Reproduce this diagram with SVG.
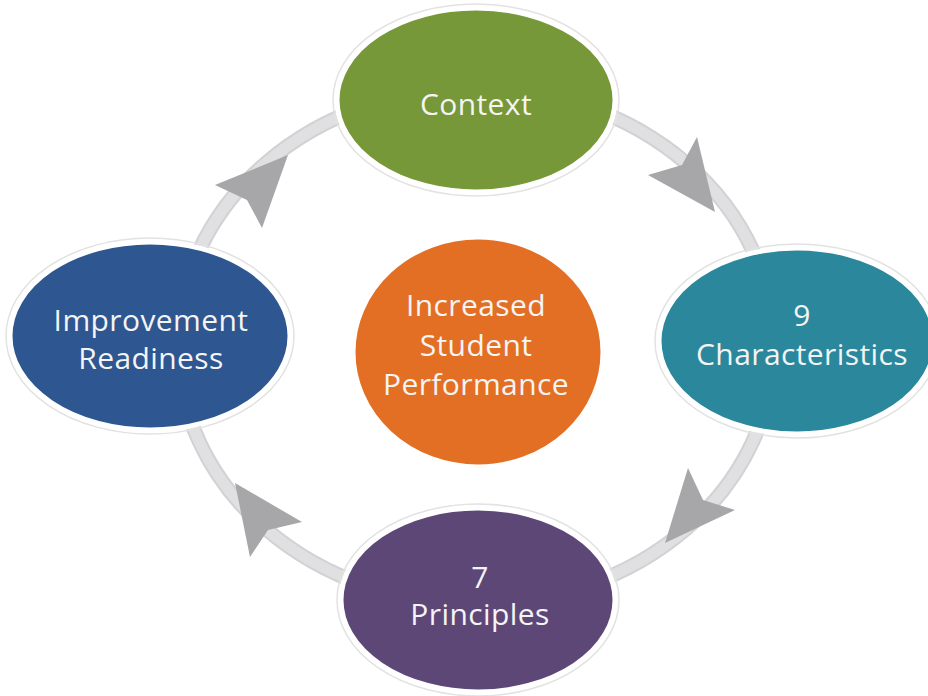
<svg xmlns="http://www.w3.org/2000/svg" width="928" height="696" viewBox="0 0 928 696">
<style>
.node{stroke:#ffffff;stroke-width:5}
.halo{fill:none;stroke:#e2e2e2;stroke-width:1.5}
.lbl{font-family:"Open Sans","Liberation Sans",sans-serif;font-size:30px;letter-spacing:0.4px;fill:#f4f4f4;text-anchor:middle}
.head{fill:#a7a7aa}
</style>
<rect width="928" height="696" fill="#ffffff"/>
<g id="connectors">
<ellipse cx="476" cy="346" rx="298" ry="258" fill="none" stroke="#d2d2d4" stroke-width="15"/>
<ellipse cx="476" cy="346" rx="298" ry="258" fill="none" stroke="#e0e0e2" stroke-width="11"/>
<polygon class="head" points="715,212 697,137 682,165 648,175"/>
<polygon class="head" points="665,543 735,510 703,500 688,468"/>
<polygon class="head" points="235,483 250,557 268,530 302,522"/>
<polygon class="head" points="288,155 215,185 247,200 262,228"/>
</g>
<g id="context">
<ellipse class="halo" cx="476" cy="100" rx="143" ry="96"/>
<ellipse class="node" cx="476" cy="100" rx="139" ry="92" fill="#779838"/>
<text class="lbl" x="476" y="115">Context</text>
</g>
<g id="characteristics">
<ellipse class="halo" cx="797" cy="341" rx="142" ry="97"/>
<ellipse class="node" cx="797" cy="341" rx="138" ry="93" fill="#2b889c"/>
<text class="lbl" x="802" y="326">9</text>
<text class="lbl" x="802" y="365">Characteristics</text>
</g>
<g id="principles">
<ellipse class="halo" cx="478" cy="600" rx="141" ry="96"/>
<ellipse class="node" cx="478" cy="600" rx="137" ry="92" fill="#5d4777"/>
<text class="lbl" x="480" y="588">7</text>
<text class="lbl" x="480" y="625">Principles</text>
</g>
<g id="improvement">
<ellipse class="halo" cx="150" cy="336" rx="144" ry="98"/>
<ellipse class="node" cx="150" cy="336" rx="140" ry="94" fill="#2e5690"/>
<text class="lbl" x="151" y="331">Improvement</text>
<text class="lbl" x="151" y="369">Readiness</text>
</g>
<g id="center">
<ellipse class="node" cx="478" cy="352" rx="125" ry="115" fill="#e36f25" stroke-width="3"/>
<text class="lbl" x="476" y="316">Increased</text>
<text class="lbl" x="476" y="356">Student</text>
<text class="lbl" x="476" y="395">Performance</text>
</g>
</svg>
